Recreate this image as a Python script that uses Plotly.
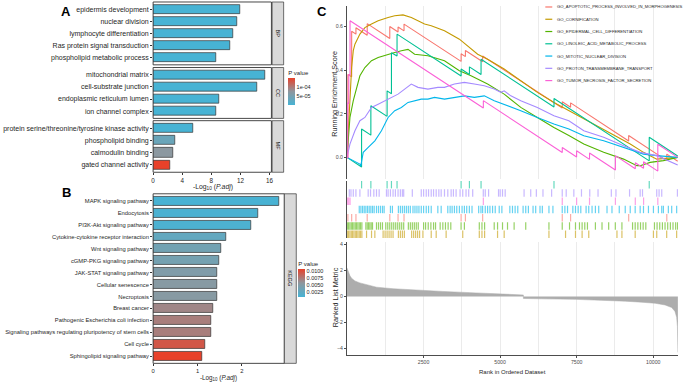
import plotly.graph_objects as go

W, H = 685, 383
FONT = "Liberation Sans, Arial, sans-serif"
TXT = "#262626"
GREY = "#4D4D4D"

# ---------------- data: panel A (GO) ----------------
bp_terms = ["epidermis development", "nuclear division", "lymphocyte differentiation",
            "Ras protein signal transduction", "phospholipid metabolic process"]
bp_score = [12.0, 11.5, 10.95, 10.6, 8.7]
bp_pvalue = [1e-7, 1e-7, 1e-7, 1e-7, 1e-7]

cc_terms = ["mitochondrial matrix", "cell-substrate junction", "endoplasmic reticulum lumen",
            "ion channel complex"]
cc_score = [15.4, 14.25, 9.1, 8.6]
cc_pvalue = [1e-7, 1e-7, 1e-7, 1e-7]

mf_terms = ["protein serine/threonine/tyrosine kinase activity", "phospholipid binding",
            "calmodulin binding", "gated channel activity"]
mf_score = [5.5, 3.0, 2.75, 2.3]
mf_pvalue = [1e-7, 3.6e-5, 7.0e-5, 1.45e-4]

# ---------------- data: panel B (KEGG) ----------------
kegg_terms = ["MAPK signaling pathway", "Endocytosis", "PI3K-Akt signaling pathway",
              "Cytokine-cytokine receptor interaction", "Wnt signaling pathway",
              "cGMP-PKG signaling pathway", "JAK-STAT signaling pathway", "Cellular senescence",
              "Necroptosis", "Breast cancer", "Pathogenic Escherichia coli infection",
              "Signaling pathways regulating pluripotency of stem cells", "Cell cycle",
              "Sphingolipid signaling pathway"]
kegg_score = [2.83, 2.36, 2.21, 1.64, 1.52, 1.49, 1.45, 1.44, 1.44, 1.35, 1.31, 1.31, 1.16, 1.11]
kegg_pvalue = [0.0006, 0.0008, 0.0009, 0.0025, 0.0036, 0.0038, 0.0046, 0.0051, 0.0051,
               0.0066, 0.0071, 0.0071, 0.0094, 0.0107]

# ---------------- data: panel C (GSEA) ----------------
set_names = ["GO_APOPTOTIC_PROCESS_INVOLVED_IN_MORPHOGENESIS", "GO_CORNIFICATION",
             "GO_EPIDERMAL_CELL_DIFFERENTIATION", "GO_LINOLEIC_ACID_METABOLIC_PROCESS",
             "GO_MITOTIC_NUCLEAR_DIVISION", "GO_PROTON_TRANSMEMBRANE_TRANSPORT",
             "GO_TUMOR_NECROSIS_FACTOR_SECRETION"]
set_colors = ["#F8766D", "#C49A00", "#53B400", "#00C094", "#00B6EB", "#A58AFF", "#FB61D7"]

es_apoptotic_rank = [0, 30, 30, 153, 153, 293, 293, 661, 661, 1398, 1398, 1668, 1668, 1863, 1863,
                     3727, 3727, 3867, 3867, 4430, 4430, 7030, 7030, 7302, 7302, 9198, 9198,
                     10443, 10443, 10800]
es_apoptotic_score = [0, -0.003, 0.38, 0.37, 0.578, 0.565, 0.594, 0.56, 0.613, 0.545, 0.60, 0.575,
                      0.598, 0.58, 0.611, 0.44, 0.475, 0.462, 0.49, 0.438, 0.465, 0.226, 0.255,
                      0.23, 0.25, 0.075, 0.10, -0.015, 0.015, -0.018]

es_cornification_rank = [0, 43, 97, 152, 206, 260, 422, 585, 801, 1018, 1343, 1560, 1830, 2101,
                         2534, 2751, 3184, 3671, 4267, 4592, 5133, 5675, 6216, 6758, 7245, 7733,
                         8545, 9249, 9682, 10115, 10800]
es_cornification_score = [0, 0.137, 0.26, 0.412, 0.489, 0.519, 0.565, 0.595, 0.611, 0.626, 0.641,
                          0.649, 0.653, 0.641, 0.611, 0.603, 0.58, 0.542, 0.473, 0.45, 0.405,
                          0.351, 0.298, 0.252, 0.214, 0.176, 0.115, 0.061, 0.023, -0.008, 0.0]

es_epidermal_rank = [0, 97, 206, 314, 422, 585, 801, 1018, 1343, 1560, 1776, 1993, 2209, 2643,
                     3184, 3671, 4050, 4592, 5133, 5675, 6216, 6758, 7245, 7733, 8382, 9032,
                     9465, 9574, 9899, 10332, 10800]
es_epidermal_score = [0, 0.183, 0.26, 0.321, 0.374, 0.412, 0.443, 0.458, 0.473, 0.481, 0.489,
                      0.495, 0.473, 0.466, 0.443, 0.397, 0.374, 0.336, 0.29, 0.229, 0.183, 0.137,
                      0.10, 0.061, 0.023, -0.008, -0.038, -0.038, -0.023, -0.015, 0.0]

es_linoleic_rank = [0, 477, 477, 780, 780, 1310, 1310, 1452, 1452, 1635, 1635, 3727, 3727, 3998,
                    3998, 4378, 4378, 6760, 6760, 9870, 9870, 10800]
es_linoleic_score = [0, -0.044, 0.13, 0.102, 0.237, 0.188, 0.305, 0.292, 0.48, 0.465, 0.565, 0.373,
                     0.405, 0.38, 0.415, 0.38, 0.45, 0.231, 0.27, -0.016, 0.092, 0.006]

es_mitotic_rank = [0, 422, 450, 531, 693, 910, 1126, 1343, 1560, 1776, 1993, 2209, 2426, 2643,
                   2859, 3184, 3509, 3834, 4159, 4484, 4809, 5133, 5675, 6216, 6758, 7245, 7733,
                   8382, 9032, 9682, 10115, 10800]
es_mitotic_score = [0, -0.031, -0.04, 0.023, 0.046, 0.076, 0.122, 0.183, 0.214, 0.229, 0.252,
                    0.26, 0.267, 0.267, 0.275, 0.267, 0.275, 0.282, 0.275, 0.282, 0.26, 0.244,
                    0.214, 0.183, 0.153, 0.13, 0.099, 0.076, 0.046, 0.015, 0.008, 0.0]

es_proton_rank = [0, 97, 260, 422, 585, 801, 1018, 1235, 1451, 1668, 1884, 2101, 2318, 2643, 2967,
                  3184, 3509, 3834, 4159, 4484, 4809, 5025, 5133, 5350, 5675, 6216, 6758, 7245,
                  7733, 8382, 9032, 9574, 10115, 10800]
es_proton_score = [0, 0.061, 0.122, 0.168, 0.183, 0.229, 0.244, 0.26, 0.275, 0.29, 0.313, 0.336,
                   0.321, 0.313, 0.321, 0.321, 0.336, 0.344, 0.336, 0.328, 0.313, 0.298, 0.305,
                   0.282, 0.26, 0.229, 0.191, 0.168, 0.122, 0.092, 0.053, 0.023, 0.008, -0.035]

es_tnf_rank = [0, 25, 25, 60, 60, 100, 100, 4453, 4453, 7030, 7030, 7498, 7498, 7920, 7920, 8765,
               8765, 9415, 9415, 9685, 9685, 10150, 10150, 10800]
es_tnf_score = [0, -0.002, 0.25, 0.247, 0.38, 0.376, 0.626, 0.226, 0.26, 0.022, 0.045, 0.002,
                0.03, -0.009, 0.02, -0.058, 0.008, -0.052, -0.025, -0.05, -0.02, -0.063, 0.06, 0.0]

hits_apoptotic = [30, 153, 293, 661, 1398, 1668, 1863, 3727, 3867, 4430, 7030, 7302, 9198, 10443]
hits_cornification = [11, 54, 97, 141, 184, 227, 271, 314, 357, 401, 444, 487, 639, 802, 910,
                      1180, 1245, 1310, 1375, 1440, 1505, 1679, 1744, 1809, 1874, 2112, 2177,
                      2242, 2307, 2372, 2480, 2751, 2913, 3238, 3780, 4321, 4408, 4494, 4917,
                      5133, 6595, 7137, 7462, 7678, 7895, 8816, 8978, 9411, 10007, 10115, 10440,
                      10765]
hits_epidermal = [11, 54, 97, 141, 184, 227, 271, 314, 357, 401, 444, 487, 617, 661, 704, 747,
                  791, 834, 964, 1029, 1094, 1159, 1267, 1332, 1397, 1462, 1527, 1592, 1657, 1722,
                  1787, 1852, 2004, 2069, 2134, 2199, 2263, 2328, 2502, 2567, 2653, 2740, 2827,
                  2892, 3043, 3130, 3216, 3303, 3390, 3726, 3834, 4321, 4408, 4494, 4808, 4917,
                  5079, 5242, 5458, 5837, 6595, 7029, 7267, 7462, 7592, 7678, 7765, 7852, 8112,
                  8328, 8545, 8762, 8978, 9325, 9411, 9498, 9585, 9671, 9758, 10040, 10126,
                  10213, 10300, 10386, 10473, 10560, 10646, 10733, 10795]
hits_linoleic = [477, 780, 1310, 1452, 1635, 3727, 3998, 4378, 6760, 9870]
hits_mitotic = [401, 455, 509, 563, 617, 671, 726, 780, 834, 888, 964, 1029, 1094, 1159, 1213,
                1419, 1484, 1679, 1744, 1809, 1874, 1939, 2004, 2069, 2155, 2220, 2285, 2350,
                2426, 2502, 2588, 2664, 2751, 2967, 3076, 3292, 3368, 3433, 3509, 3585, 3671,
                3758, 3834, 3910, 3996, 4083, 4300, 4375, 4429, 4516, 4592, 4668, 4754, 4841,
                4971, 5058, 5318, 5404, 5491, 5577, 5751, 5837, 5924, 6076, 6162, 6303, 6379,
                6595, 6725, 7029, 7115, 7202, 7375, 7462, 7549, 7635, 7808, 7895, 8003, 8112,
                8220, 8491, 8653, 8891, 9086, 9249, 9411, 9574, 9682, 9844, 10007, 10169, 10278,
                10332, 10494, 10603, 10765]
hits_proton = [76, 130, 206, 292, 422, 693, 769, 877, 964, 1051, 1289, 1343, 1419, 1505, 1581,
               1668, 1744, 1809, 1852, 2134, 2426, 2502, 2588, 2664, 2751, 2827, 2913, 3000, 3076,
               3184, 3292, 3401, 3476, 3563, 3693, 3780, 3888, 3975, 4105, 4451, 4516, 4624,
               4949, 5003, 5079, 5166, 5783, 6000, 6184, 6400, 6682, 7029, 7159, 7408, 7657,
               7928, 8198, 8632, 8783, 9227, 9574, 9650, 10115, 10191, 10278, 10790]
hits_tnf = [25, 60, 100, 4453, 7030, 7498, 7920, 8765, 9415, 9685, 10150]

metric_rank = [0, 43, 97, 152, 260, 422, 693, 964, 1505, 2047, 3130, 4213, 5079, 5729, 5760,
               5760, 5837, 6379, 7462, 8545, 9087, 9628, 10061, 10386, 10603, 10711, 10765,
               10790, 10805]
metric_value = [2.2, 1.9, 1.6, 1.4, 1.2, 1.05, 0.88, 0.72, 0.6, 0.52, 0.39, 0.28, 0.18, 0.12,
                0.12, -0.15, -0.15, -0.18, -0.22, -0.3, -0.36, -0.44, -0.52, -0.65, -0.85, -1.15,
                -1.6, -2.3, -4.3]

rank_max = 10810

es_series = [
    (es_apoptotic_rank, es_apoptotic_score),
    (es_cornification_rank, es_cornification_score),
    (es_epidermal_rank, es_epidermal_score),
    (es_linoleic_rank, es_linoleic_score),
    (es_mitotic_rank, es_mitotic_score),
    (es_proton_rank, es_proton_score),
    (es_tnf_rank, es_tnf_score),
]
hit_series = [hits_apoptotic, hits_cornification, hits_epidermal, hits_linoleic,
              hits_mitotic, hits_proton, hits_tnf]
# row (from top) of each set in the hit panel
hit_row = [4, 6, 5, 0, 3, 1, 2]


# ---------------- helpers (layout only) ----------------
def fx(p):
    return p / W


def fy(p):
    return 1 - p / H


scale_colors = [[0, "#47B3D4"], [0.5, "#8E979E"], [1, "#E8412A"]]

fig = go.Figure()

# ---- panel A bars ----
for terms, score, pv, ya in [(bp_terms, bp_score, bp_pvalue, "y"),
                             (cc_terms, cc_score, cc_pvalue, "y2"),
                             (mf_terms, mf_score, mf_pvalue, "y3")]:
    fig.add_trace(go.Bar(
        y=terms, x=score, orientation="h", width=0.75, xaxis="x", yaxis=ya,
        marker=dict(color=pv, coloraxis="coloraxis", line=dict(color="#333333", width=0.7)),
        showlegend=False, hoverinfo="x+y"))

# ---- panel B bars ----
fig.add_trace(go.Bar(
    y=kegg_terms, x=kegg_score, orientation="h", width=0.75, xaxis="x2", yaxis="y4",
    marker=dict(color=kegg_pvalue, coloraxis="coloraxis2", line=dict(color="#333333", width=0.7)),
    showlegend=False, hoverinfo="x+y"))

# ---- panel C: running enrichment score ----
for (rk, sc), col, name in zip(es_series, set_colors, set_names):
    fig.add_trace(go.Scatter(x=rk, y=sc, mode="lines", line=dict(color=col, width=1.1),
                             xaxis="x3", yaxis="y5", name=name, showlegend=False))

# ---- panel C: hit marks ----
for hits, col, row, name in zip(hit_series, set_colors, hit_row, set_names):
    top = 7 - row
    xs, ys = [], []
    for h in hits:
        xs += [h, h, None]
        ys += [top - 0.95, top - 0.05, None]
    fig.add_trace(go.Scatter(x=xs, y=ys, mode="lines", line=dict(color=col, width=1.2),
                             opacity=0.6, xaxis="x4", yaxis="y6", name=name,
                             showlegend=False, hoverinfo="skip"))

# ---- panel C: ranked list metric ----
fig.add_trace(go.Scatter(x=metric_rank, y=metric_value, mode="lines", fill="tozeroy",
                         fillcolor="#ADADAD", line=dict(color="#ADADAD", width=0.5),
                         xaxis="x5", yaxis="y7", showlegend=False))

tickA = dict(family=FONT, size=7, color=TXT)
tickB = dict(family=FONT, size=5.8, color=TXT)
small = dict(family=FONT, size=5.2, color=GREY)


def cat_axis(terms, d0, d1, anchor, tf):
    n = len(terms)
    return dict(domain=[fy(d1), fy(d0)], anchor=anchor, type="category",
                categoryorder="array", categoryarray=terms, range=[n - 0.4, -0.6],
                ticks="outside", ticklen=2, tickwidth=0.6, tickcolor="#333333",
                tickfont=tf, showgrid=False, zeroline=False, showline=False)


grid_minor = [1250, 3750, 6250, 8750]
grid_major = [2500, 5000, 7500, 10000]

fig.update_layout(
    width=W, height=H, margin=dict(l=0, r=0, t=0, b=0),
    paper_bgcolor="white", plot_bgcolor="white",
    font=dict(family=FONT, color=TXT),
    showlegend=False, bargap=0,
    # panel A
    xaxis=dict(domain=[fx(152), fx(271)], anchor="y3", range=[0, 16.25],
               tickvals=[0, 4, 8, 12, 16], ticks="outside", ticklen=2, tickwidth=0.6,
               tickcolor="#333333", tickfont=dict(family=FONT, size=6.3, color=TXT),
               showgrid=False, zeroline=False),
    yaxis=cat_axis(bp_terms, 1, 64, "x", tickA),
    yaxis2=cat_axis(cc_terms, 66.7, 117.7, "x", tickA),
    yaxis3=cat_axis(mf_terms, 120, 171.7, "x", tickA),
    # panel B
    xaxis2=dict(domain=[fx(152), fx(284)], anchor="y4", range=[0, 2.955],
                tickvals=[0, 1, 2], ticks="outside", ticklen=2, tickwidth=0.6,
                tickcolor="#333333", tickfont=tickB, showgrid=False, zeroline=False),
    yaxis4=cat_axis(kegg_terms, 193.3, 363.3, "x2", tickB),
    # panel C top
    xaxis3=dict(domain=[fx(347), fx(680)], anchor="y5", range=[0, rank_max],
                tickvals=grid_minor + grid_major, showticklabels=False, ticks="",
                showgrid=True, gridcolor="#EBEBEB", gridwidth=0.7, zeroline=False,
                showline=False),
    yaxis5=dict(domain=[fy(178), fy(5)], anchor="x3", range=[-0.097, 0.694],
                tickvals=[0, 0.2, 0.4, 0.6], ticktext=["0.0", "0.2", "0.4", "0.6"],
                ticks="outside", ticklen=2, tickwidth=0.6, tickcolor=GREY, tickfont=small,
                showgrid=False, zeroline=False, showline=True, linecolor=GREY,
                linewidth=0.9),
    # panel C hits
    xaxis4=dict(domain=[fx(347), fx(680)], anchor="y6", range=[0, rank_max], visible=False),
    yaxis6=dict(domain=[fy(238), fy(180)], anchor="x4", range=[0, 7], showticklabels=False,
                ticks="", showgrid=False, zeroline=False, showline=True, linecolor=GREY,
                linewidth=0.9),
    # panel C metric
    xaxis5=dict(domain=[fx(347), fx(680)], anchor="y7", range=[0, rank_max],
                tickvals=grid_major, ticktext=[str(v) for v in grid_major],
                ticks="outside", ticklen=2, tickwidth=0.6, tickcolor=GREY, tickfont=small,
                showgrid=True, gridcolor="#EBEBEB", gridwidth=0.7, zeroline=False,
                showline=True, linecolor=GREY, linewidth=0.9,
                minor=dict(tickvals=grid_minor, showgrid=True, gridcolor="#EBEBEB",
                           gridwidth=0.7, ticks="")),
    yaxis7=dict(domain=[fy(355), fy(242)], anchor="x5", range=[-4.51, 4.17],
                tickvals=[-4, -2, 0, 2, 4], ticks="outside", ticklen=2, tickwidth=0.6,
                tickcolor=GREY, tickfont=small, showgrid=False, zeroline=False,
                showline=True, linecolor=GREY, linewidth=0.9),
    coloraxis=dict(cmin=0, cmax=1.45e-4, colorscale=scale_colors,
                   colorbar=dict(title=dict(text="P value", side="top",
                                            font=dict(family=FONT, size=6, color=TXT)),
                                 thickness=7, lenmode="pixels", len=38,
                                 x=fx(288), xanchor="left", y=fy(85.5), yanchor="middle",
                                 tickvals=[5e-5, 1e-4], ticktext=["5e-05", "1e-04"],
                                 tickfont=dict(family=FONT, size=5.5, color=TXT), ticks="",
                                 outlinewidth=0, xpad=0, ypad=0)),
    coloraxis2=dict(cmin=0.0005, cmax=0.0107, colorscale=scale_colors,
                    colorbar=dict(title=dict(text="P value", side="top",
                                             font=dict(family=FONT, size=6, color=TXT)),
                                  thickness=7, lenmode="pixels", len=39,
                                  x=fx(298), xanchor="left", y=fy(277.5), yanchor="middle",
                                  tickvals=[0.0025, 0.005, 0.0075, 0.01],
                                  ticktext=["0.0025", "0.0050", "0.0075", "0.0100"],
                                  tickfont=dict(family=FONT, size=5.5, color=TXT), ticks="",
                                  outlinewidth=0, xpad=0, ypad=0)),
)

shapes = []
annotations = []

# panel borders and strips for facets
facets = [("y", "x", "BP", 271.7, 283.3), ("y2", "x", "CC", 271.7, 283.3),
          ("y3", "x", "MF", 271.7, 283.3), ("y4", "x2", "KEGG", 284, 296)]
for ya, xa, label_txt, s0, s1 in facets:
    shapes.append(dict(type="rect", xref=xa + " domain", yref=ya + " domain", x0=0, x1=1,
                       y0=0, y1=1, line=dict(color="#333333", width=0.9),
                       fillcolor="rgba(0,0,0,0)", layer="above"))
    shapes.append(dict(type="rect", xref="paper", yref=ya + " domain", x0=fx(s0), x1=fx(s1),
                       y0=0, y1=1, line=dict(color="#333333", width=0.7),
                       fillcolor="#D9D9D9"))
    annotations.append(dict(text=label_txt, xref="paper", yref=ya + " domain",
                            x=fx((s0 + s1) / 2), y=0.5, showarrow=False, textangle=90,
                            font=dict(family=FONT, size=5.5, color="#1A1A1A"),
                            xanchor="center", yanchor="middle"))


def label(text, px, py, size, angle=0, bold=False, color=TXT):
    return dict(text=("<b>%s</b>" % text) if bold else text, xref="paper", yref="paper",
                x=fx(px), y=fy(py), xanchor="center", yanchor="middle", showarrow=False,
                textangle=angle, font=dict(family=FONT, size=size, color=color))


# axis titles
annotations += [
    label("-Log<sub>10</sub> (<i>P.adj</i>)", 212, 186, 6.8),
    label("-Log<sub>10</sub> (<i>P.adj</i>)", 218, 378, 6.3),
    label("Running Enrichment Score", 335, 93, 7.2, angle=-90),
    label("Ranked List Metric", 335, 297, 7.2, angle=-90),
    label("Rank in Ordered Dataset", 513, 372, 6),
]
# panel letters
for letter, px, py in [("A", 64, 11), ("B", 65, 192), ("C", 322, 11)]:
    annotations.append(label(letter, px, py, 13, bold=True, color="black"))

# GSEA legend
for i, (name, col) in enumerate(zip(set_names, set_colors)):
    yy = 6 + 12.3 * i
    shapes.append(dict(type="line", xref="paper", yref="paper", x0=fx(546.5), x1=fx(553.5),
                       y0=fy(yy), y1=fy(yy), line=dict(color=col, width=1.2)))
    annotations.append(dict(text=name, xref="paper", yref="paper", x=fx(556.5), y=fy(yy),
                            xanchor="left", yanchor="middle", showarrow=False,
                            font=dict(family=FONT, size=4.2, color=TXT)))

fig.update_layout(shapes=shapes, annotations=annotations)
fig.write_html("out.html", config={"displayModeBar": False},
               post_script="document.body.style.margin='0px';document.body.style.overflow='hidden';")
